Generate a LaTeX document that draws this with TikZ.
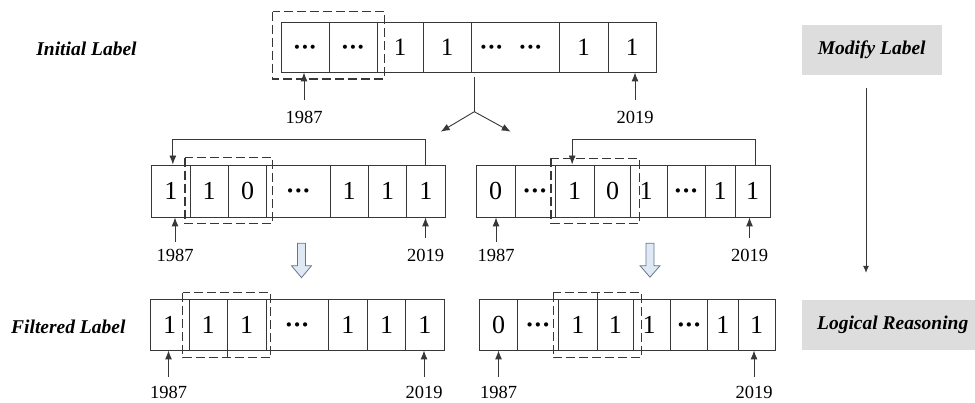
\documentclass[tikz,border=0pt]{standalone}
\usepackage{fontspec}
\setmainfont{Liberation Serif}
\usetikzlibrary{arrows.meta}
\definecolor{boxgray}{RGB}{221,221,221}
\definecolor{linegray}{RGB}{55,55,55}
\definecolor{hollowfill}{RGB}{222,233,245}
\definecolor{hollowline}{RGB}{105,118,132}
\newcommand\dts{\vphantom{1}\textbf{·\kern-0.5pt·\kern-0.5pt·}}
\begin{document}
\begin{tikzpicture}[x=1pt,y=-1pt,
  cell/.style={draw=linegray, line width=0.9pt, inner sep=0pt, font=\fontsize{26}{26}\selectfont},
  toprow/.style={cell, minimum height=50pt, font=\fontsize{25}{25}\selectfont},
  midrow/.style={cell, minimum height=52pt},
  botrow/.style={cell, minimum height=51pt},
  dbox/.style={draw=linegray, line width=1.1pt, dash pattern=on 9pt off 4pt},
  arr/.style={draw=linegray, line width=0.9pt, -{Latex[length=9pt,width=7pt]}},
  thinarr/.style={draw=linegray, line width=0.8pt, -{Latex[length=7pt,width=6pt]}},
  year/.style={inner sep=0pt, font=\fontsize{18.5}{18.5}\selectfont},
  lab/.style={inner sep=0pt, font=\fontsize{19.5}{19.5}\selectfont\bfseries\itshape},
  gbox/.style={fill=boxgray, inner sep=0pt, minimum height=50pt, font=\fontsize{19.5}{19.5}\selectfont\bfseries\itshape},
  hollow/.style={draw=hollowline, fill=hollowfill, line width=0.8pt, line join=miter}
]
\useasboundingbox (0,0) rectangle (975,403);

% ---------- top row ----------
\node[toprow, minimum width=48] (t1) at (305,47) {\dts};
\node[toprow, minimum width=48] (t2) at (353,47) {\dts};
\node[toprow, minimum width=46] (t3) at (400,47) {1};
\node[toprow, minimum width=48] (t4) at (447,47) {1};
\node[toprow, minimum width=88] (t5) at (515,47) {\kern-8pt\dts\hspace{15pt}\dts};
\node[toprow, minimum width=49] (t6) at (583.5,47) {1};
\node[toprow, minimum width=48] (t7) at (632,47) {1};
\draw[dbox] (272.7,11.7) rectangle (384.3,79);

\node[year] (ty1) at (304,117) {1987};
\node[year] (ty2) at (635,117) {2019};
\draw[arr] ([yshift=10.5pt]ty1.north) -- (ty1.north |- t1.south);
\draw[arr] ([yshift=10.5pt]ty2.north) -- (ty2.north |- t7.south);

% fork
\coordinate (stemtop) at (474.3,77);
\coordinate (fork) at (474.3,111.7);
\coordinate (forkl) at (440.7,131.7);
\coordinate (forkr) at (510.7,131.7);
\draw[draw=linegray, line width=0.9pt] (stemtop) -- (fork);
\draw[arr] (fork) -- (forkl);
\draw[arr] (fork) -- (forkr);

% ---------- middle left ----------
\node[midrow, minimum width=38.3] (a1) at (170.85,191) {1};
\node[midrow, minimum width=38.3] (a2) at (209.15,191) {1};
\node[midrow, minimum width=38.4] (a3) at (247.5,191) {0};
\node[midrow, minimum width=63.3] (a4) at (298.35,191) {\dts};
\node[midrow, minimum width=38.3] (a5) at (349.15,191) {1};
\node[midrow, minimum width=38.4] (a6) at (387.5,191) {1};
\node[midrow, minimum width=38.3] (a7) at (425.85,191) {1};
\draw[dbox] (185,157.7) rectangle (272.7,223.3);
\draw[arr] (a7.north) -- ++(0,-25) -| ([xshift=2pt]a1.north);

\node[year] (ay1) at (175,255) {1987};
\node[year] (ay2) at (425.5,255) {2019};
\draw[arr] ([yshift=6.8pt]ay1.north) -- (ay1.north |- a1.south);
\draw[arr] ([yshift=10.8pt]ay2.north) -- (ay2.north |- a7.south);

% ---------- middle right ----------
\node[midrow, minimum width=39] (b1) at (495.5,191) {0};
\node[midrow, minimum width=40] (b2) at (535,191) {\dts};
\node[midrow, minimum width=39.3] (b3) at (574.65,191) {1};
\node[midrow, minimum width=36.4] (b4) at (612.5,191) {0};
\node[midrow, minimum width=36.6] (b5) at (649,191) {\kern-3pt 1\kern3pt};
\node[midrow, minimum width=37.7] (b6) at (686.15,191) {\dts};
\node[midrow, minimum width=30] (b7) at (720,191) {1};
\node[midrow, minimum width=35] (b8) at (752.5,191) {1};
\draw[dbox] (551,158.3) rectangle (639.3,223.3);
\draw[arr] ([xshift=3pt]b8.north) -- ++(0,-25) -| ([xshift=-2.5pt]b3.north);

\node[year] (by1) at (496,255) {1987};
\node[year] (by2) at (749.5,255) {2019};
\draw[arr] ([yshift=6.8pt]by1.north) -- (by1.north |- b1.south);
\draw[arr] ([yshift=10.8pt]by2.north) -- (by2.north |- b8.south);

% hollow arrows
\draw[hollow] (297.5,243.3) -- (305.5,243.3) -- (305.5,265.7) -- (311.5,265.7)
  -- (301.5,277.7) -- (291.5,265.7) -- (297.5,265.7) -- cycle;
\draw[hollow] (646,243.3) -- (654,243.3) -- (654,265.7) -- (660,265.7)
  -- (650,277.2) -- (640,265.7) -- (646,265.7) -- cycle;

% ---------- bottom left ----------
\node[botrow, minimum width=39] (c1) at (169.5,324.5) {1};
\node[botrow, minimum width=38.3] (c2) at (208.15,324.5) {1};
\node[botrow, minimum width=38.7] (c3) at (246.65,324.5) {1};
\node[botrow, minimum width=62.3] (c4) at (297.15,324.5) {\dts};
\node[botrow, minimum width=39] (c5) at (347.8,324.5) {1};
\node[botrow, minimum width=38.4] (c6) at (386.5,324.5) {1};
\node[botrow, minimum width=38.3] (c7) at (424.85,324.5) {1};
\draw[dbox] (182.7,292.7) rectangle (270.7,357.7);
\draw[draw=linegray, line width=0.9pt] (c2.south east) -- ++(0,7.7);

\node[year] (cy1) at (168.5,392) {1987};
\node[year] (cy2) at (424,392) {2019};
\draw[arr] ([yshift=8.8pt]cy1.north) -- (cy1.north |- c1.south);
\draw[arr] ([yshift=8.8pt]cy2.north) -- (cy2.north |- c7.south);

% ---------- bottom right ----------
\node[botrow, minimum width=38.4] (d1) at (498.5,324.5) {0};
\node[botrow, minimum width=40.6] (d2) at (538,324.5) {\dts};
\node[botrow, minimum width=39] (d3) at (577.8,324.5) {1};
\node[botrow, minimum width=36] (d4) at (615.3,324.5) {1};
\node[botrow, minimum width=37.4] (d5) at (652,324.5) {\kern-3pt 1\kern3pt};
\node[botrow, minimum width=36.6] (d6) at (689,324.5) {\dts};
\node[botrow, minimum width=31] (d7) at (722.8,324.5) {1};
\node[botrow, minimum width=36.7] (d8) at (756.65,324.5) {1};
\draw[dbox] (553.3,292.7) rectangle (641.7,357.7);
\draw[draw=linegray, line width=0.9pt] (d3.north east) -- ++(0,-6.3);

\node[year] (dy1) at (498.5,392) {1987};
\node[year] (dy2) at (754,392) {2019};
\draw[arr] ([yshift=8.8pt]dy1.north) -- (dy1.north |- d1.south);
\draw[arr] ([yshift=8.8pt]dy2.north) -- (dy2.north |- d8.south);

% ---------- side labels ----------
\node[lab, anchor=base] (il) at (86.5,56) {Initial Label};
\node[lab, anchor=base] (fl) at (68.3,334) {Filtered Label};

\node[gbox, minimum width=140] (mod) at (871.7,50) {Modify Label};
\node[gbox, minimum width=182] (log) at (892.7,325) {Logical Reasoning};
\draw[thinarr] ([xshift=-5.7pt,yshift=-13pt]mod.south) -- ([xshift=-26.7pt,yshift=27pt]log.north);
\end{tikzpicture}
\end{document}
